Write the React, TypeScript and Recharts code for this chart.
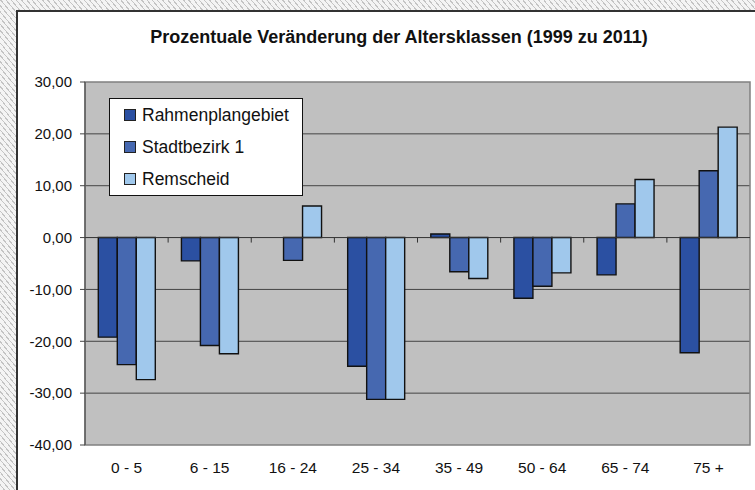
import React from "react";
import { BarChart, Bar, XAxis, YAxis, CartesianGrid, ReferenceLine, ReferenceArea, Legend } from "recharts";

const categories = ["0 - 5", "6 - 15", "16 - 24", "25 - 34", "35 - 49", "50 - 64", "65 - 74", "75 +"];
const rahmenplangebiet = [-19.2, -4.5, 0, -24.8, 0.7, -11.7, -7.2, -22.2];
const stadtbezirk1 = [-24.5, -20.8, -4.4, -31.2, -6.6, -9.4, 6.5, 12.9];
const remscheid = [-27.4, -22.4, 6.1, -31.2, -7.9, -6.8, 11.2, 21.3];
const yTicks = [-40, -30, -20, -10, 0, 10, 20, 30];
const gridValues = [-30, -20, -10, 10, 20];
const titleText = "Prozentuale Veränderung der Altersklassen (1999 zu 2011)";

const data = categories.map((name, i) => ({
  name,
  Rahmenplangebiet: rahmenplangebiet[i],
  "Stadtbezirk 1": stadtbezirk1[i],
  Remscheid: remscheid[i],
}));

const FONT = "'Liberation Sans', Arial, sans-serif";
const W = 755;
const H = 490;
const AXIS_W = 85;
const AXIS_H = 30;
const M = { top: 82, right: 5, bottom: 15, left: 0 };
const plotW = W - AXIS_W - M.left - M.right;
const plotH = H - M.top - M.bottom - AXIS_H;
const yMin = -40;
const yMax = 30;

const fmt = (v: number) => v.toFixed(2).replace(".", ",");

const CatTick = (props: any) => {
  const { x, index, payload } = props;
  const step = plotW / categories.length;
  const zeroY = M.top + plotH * (yMax / (yMax - yMin));
  const bx = x - step / 2;
  return (
    <g>
      {index > 0 && <line x1={bx} x2={bx} y1={zeroY} y2={zeroY + 5} stroke="#333" strokeWidth={1} />}
      <text x={x} y={M.top + plotH + 28} textAnchor="middle" fontFamily={FONT} fontSize={15.5} fill="#111">
        {payload.value}
      </text>
    </g>
  );
};

const seriesList: [string, string][] = [
  ["Rahmenplangebiet", "#2B50A2"],
  ["Stadtbezirk 1", "#4668B0"],
  ["Remscheid", "#A0C8EC"],
];

const LegendBox = () => (
  <div
    style={{
      width: 192,
      height: 96,
      background: "#fff",
      border: "1px solid #111",
      position: "relative",
      fontFamily: FONT,
      fontSize: 17.5,
      color: "#111",
    }}
  >
    {seriesList.map(([name, color], i) => (
      <div key={name} style={{ position: "absolute", left: 14, top: 2 + i * 32, height: 28, display: "flex", alignItems: "center", whiteSpace: "nowrap" }}>
        <span style={{ width: 10, height: 10, background: color, border: "1px solid #222", display: "inline-block", marginRight: 6 }} />
        <span>{name}</span>
      </div>
    ))}
  </div>
);

export default function App() {
  return (
    <div
      style={{
        position: "absolute",
        left: 0,
        top: 0,
        width: W,
        height: H,
        overflow: "hidden",
        background: "repeating-linear-gradient(50deg, #f4f4f4 0px, #f4f4f4 3px, #c4c4c4 3px, #c4c4c4 4px)",
      }}
    >
      <div
        style={{
          position: "absolute",
          left: 16,
          top: 10,
          width: W,
          height: H,
          background: "#fff",
          border: "2px solid #333",
        }}
      />
      <div
        style={{
          position: "absolute",
          left: 0,
          top: 26,
          width: 798,
          textAlign: "center",
          fontFamily: FONT,
          fontWeight: "bold",
          fontSize: 18,
          color: "#111",
          lineHeight: "22px",
        }}
      >
        {titleText}
      </div>
      <div style={{ position: "absolute", left: 0, top: 0 }}>
        <BarChart width={W} height={H} data={data} margin={M} barGap={0} barCategoryGap="16%">
          <CartesianGrid fill="#C0C0C0" vertical={false} horizontalValues={gridValues} stroke="#444" strokeWidth={1} />
          <ReferenceArea y1={yMin} y2={yMax} fill="none" stroke="#808080" strokeWidth={1.5} />
          <XAxis dataKey="name" height={AXIS_H} axisLine={false} tickLine={false} tick={<CatTick />} interval={0} />
          <YAxis
            width={AXIS_W}
            domain={[yMin, yMax]}
            ticks={yTicks}
            tickFormatter={fmt}
            interval={0}
            tick={{ fontFamily: FONT, fontSize: 15, fill: "#111" }}
            tickSize={5}
            tickMargin={8}
            stroke="#444"
          />
          <ReferenceLine y={0} stroke="#333" strokeWidth={1} />
          {seriesList.map(([key, color]) => (
            <Bar key={key} dataKey={key} fill={color} stroke="#111" strokeWidth={1.4} isAnimationActive={false} />
          ))}
          <Legend
            layout="horizontal"
            align="center"
            verticalAlign="middle"
            content={<LegendBox />}
            wrapperStyle={{ left: 109, top: 98, width: 194, height: 98 }}
          />
        </BarChart>
      </div>
    </div>
  );
}
